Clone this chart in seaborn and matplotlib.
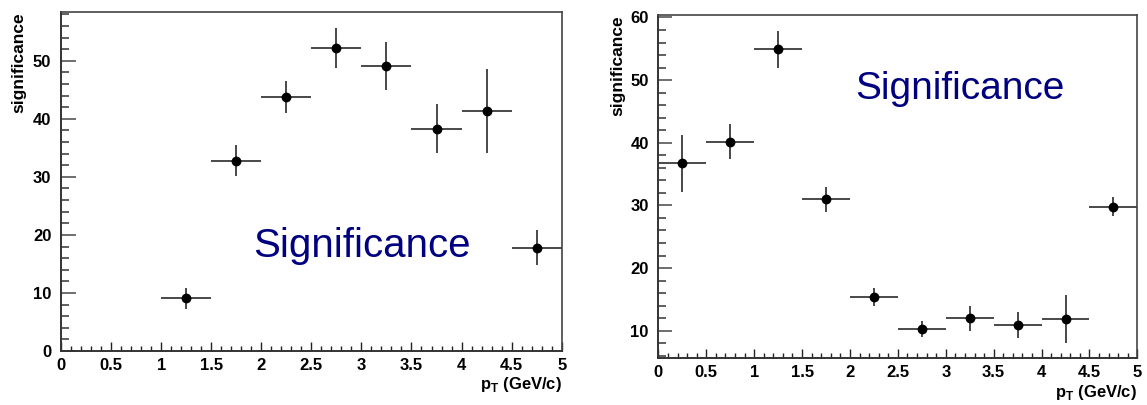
import numpy as np
import matplotlib
matplotlib.use("Agg")
import matplotlib.pyplot as plt
from matplotlib.ticker import MultipleLocator
import seaborn as sns
import pandas as pd

# left panel
pt_left = [1.25, 1.75, 2.25, 2.75, 3.25, 3.75, 4.25, 4.75]
sig_left = [9.1, 32.8, 43.8, 52.2, 49.1, 38.3, 41.3, 17.8]
err_left = [1.8, 2.7, 2.8, 3.5, 4.2, 4.2, 7.2, 3.0]

# right panel
pt_right = [0.25, 0.75, 1.25, 1.75, 2.25, 2.75, 3.25, 3.75, 4.25, 4.75]
sig_right = [36.7, 40.2, 54.9, 31.0, 15.4, 10.3, 12.0, 10.9, 11.9, 29.8]
err_right = [4.5, 2.8, 3.0, 2.0, 1.5, 1.3, 2.0, 2.1, 3.8, 1.5]

bin_half = 0.25
xtick_labels = ["0", "0.5", "1", "1.5", "2", "2.5", "3", "3.5", "4", "4.5", "5"]

sns.set_theme(style="ticks")
plt.rcParams['font.family'] = ['Liberation Sans', 'DejaVu Sans']
plt.rcParams['mathtext.default'] = 'bf'
plt.rcParams['text.color'] = 'black'

fig = plt.figure(figsize=(11.47, 4.05), dpi=100)
ax1 = fig.add_axes([0.0532, 0.1333, 0.4365, 0.837])
ax2 = fig.add_axes([0.574, 0.1153, 0.4176, 0.8477])


def draw(ax, x, y, e, ylim, ymaj, ymin_len, text_xy, text_size, xlab_y):
    df = pd.DataFrame({"pt": x, "sig": y})
    ax.errorbar(df["pt"], df["sig"], xerr=bin_half, yerr=e, fmt="none",
                ecolor="#3a3a3a", elinewidth=1.3, capsize=0, zorder=2)
    sns.scatterplot(data=df, x="pt", y="sig", ax=ax, color="black", s=50,
                    edgecolor="black", linewidth=0, zorder=3)
    ax.set_xlim(0, 5)
    ax.set_ylim(*ylim)
    ax.xaxis.set_minor_locator(MultipleLocator(0.1))
    ax.yaxis.set_major_locator(MultipleLocator(10))
    ax.yaxis.set_minor_locator(MultipleLocator(2))
    ax.set_xticks(np.arange(0, 5.01, 0.5))
    ax.set_xticklabels(xtick_labels)
    ax.tick_params(axis="x", which="major", direction="in", length=6.5, width=1,
                   color="#222222", labelcolor="black", labelsize=12, pad=5)
    ax.tick_params(axis="x", which="minor", direction="in", length=3.6, width=1,
                   color="#222222")
    ax.tick_params(axis="y", which="major", direction="in", length=ymaj, width=1.2,
                   color="#555555", labelcolor="black", labelsize=12, pad=7)
    ax.tick_params(axis="y", which="minor", direction="in", length=ymin_len, width=1.2,
                   color="#444444")
    for lab in ax.get_xticklabels() + ax.get_yticklabels():
        lab.set_fontweight("bold")
    for side in ["left", "bottom"]:
        ax.spines[side].set_color("#333333")
        ax.spines[side].set_linewidth(1.4)
    for side in ["top", "right"]:
        ax.spines[side].set_visible(True)
        ax.spines[side].set_color("#444444")
        ax.spines[side].set_linewidth(1.2)
    ax.set_xlabel("")
    ax.set_ylabel("")
    ax.text(-0.085, 1.0, "significance", transform=ax.transAxes, rotation=90,
            ha="center", va="top", fontsize=12.5, fontweight="bold", color="black")
    ax.text(1.0, xlab_y, r"p$_\mathregular{T}$ (GeV/c)", transform=ax.transAxes,
            ha="right", va="top", fontsize=12, fontweight="bold", color="black")
    ax.text(text_xy[0], text_xy[1], "Significance", transform=ax.transAxes,
            ha="left", va="center", fontsize=text_size, color="#000080")


draw(ax1, pt_left, sig_left, err_left, (0, 58.4), 11, 5.5, (0.383, 0.31), 29, -0.07)
draw(ax2, pt_right, sig_right, err_right, (5.6, 60.4), 10, 5.5, (0.411, 0.785), 28, -0.072)

fig.savefig("out.png", dpi=100)
